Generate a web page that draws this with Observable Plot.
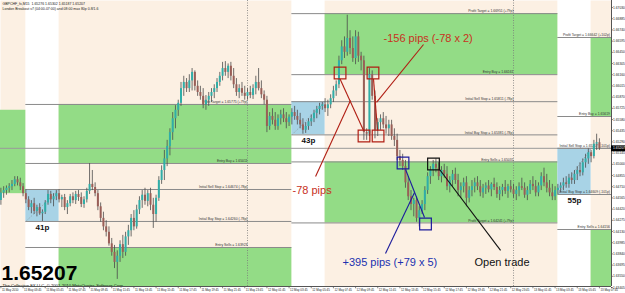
<!DOCTYPE html>
<html><head><meta charset="utf-8">
<script src="https://cdn.jsdelivr.net/npm/d3@7"></script>
<script src="https://cdn.jsdelivr.net/npm/@observablehq/plot@0.6"></script>
<style>
html,body{margin:0;padding:0;background:#fff;}
#chart{width:625px;height:293px;overflow:hidden;}
</style></head><body><div id="chart"></div>
<script>
// ---- time axis: hours since 11 May 2010 00:00, M15 bars ----
const T0 = 1.714, T1 = 56.84;
const P0 = 1.63418, P1 = 1.67121;
const barStart = 1.75, barHours = 0.25;

const open = [1.6453,1.6463,1.6466,1.6469,1.6471,1.6474,1.6480,1.6476,1.6471,1.6462,1.6454,1.6444,1.6449,1.6439,1.6444,1.6436,1.6438,1.6450,1.6461,1.6454,
1.6458,1.6462,1.6454,1.6457,1.6444,1.6449,1.6458,1.6453,1.6461,1.6457,1.6448,1.6454,1.6465,1.6474,1.6470,1.6462,1.6445,1.6430,1.6419,1.6412,
1.6397,1.6386,1.6373,1.6381,1.6396,1.6386,1.6406,1.6414,1.6430,1.6419,1.6441,1.6453,1.6460,1.6452,1.6462,1.6447,1.6435,1.6456,1.6479,1.6492,
1.6507,1.6523,1.6541,1.6559,1.6570,1.6579,1.6598,1.6606,1.6598,1.6608,1.6619,1.6601,1.6593,1.6588,1.6577,1.6583,1.6588,1.6593,1.6598,1.6606,
1.6614,1.6624,1.6619,1.6627,1.6614,1.6603,1.6593,1.6598,1.6592,1.6588,1.6593,1.6589,1.6598,1.6606,1.6598,1.6590,1.6583,1.6549,1.6562,1.6557,
1.6549,1.6559,1.6564,1.6559,1.6554,1.6561,1.6567,1.6562,1.6557,1.6551,1.6544,1.6549,1.6555,1.6559,1.6566,1.6571,1.6575,1.6577,1.6572,1.6577,
1.6585,1.6595,1.6603,1.6634,1.6652,1.6645,1.6663,1.6650,1.6637,1.6665,1.6640,1.6634,1.6541,1.6539,1.6616,1.6588,1.6544,1.6554,1.6559,1.6551,
1.6546,1.6551,1.6536,1.6531,1.6510,1.6505,1.6497,1.6476,1.6458,1.6448,1.6453,1.6430,1.6440,1.6448,1.6466,1.6484,1.6492,1.6500,1.6495,1.6484,
1.6492,1.6487,1.6471,1.6479,1.6487,1.6479,1.6466,1.6471,1.6476,1.6456,1.6466,1.6471,1.6476,1.6471,1.6463,1.6469,1.6472,1.6467,1.6474,1.6470,
1.6461,1.6466,1.6470,1.6465,1.6471,1.6467,1.6461,1.6466,1.6471,1.6469,1.6460,1.6466,1.6474,1.6471,1.6463,1.6472,1.6484,1.6476,1.6469,1.6463,
1.6458,1.6466,1.6469,1.6472,1.6476,1.6474,1.6482,1.6479,1.6487,1.6492,1.6489,1.6502,1.6507,1.6515,1.6510,1.6526,1.6528];
const high = [1.6469,1.6471,1.6472,1.6475,1.6479,1.6484,1.6484,1.6482,1.6475,1.6467,1.6458,1.6453,1.6456,1.6447,1.6449,1.6441,1.6453,1.6466,1.6465,1.6462,
1.6466,1.6467,1.6460,1.6461,1.6453,1.6461,1.6463,1.6465,1.6466,1.6463,1.6458,1.6469,1.6501,1.6492,1.6476,1.6466,1.6450,1.6438,1.6427,1.6419,
1.6404,1.6395,1.6388,1.6401,1.6408,1.6412,1.6421,1.6435,1.6440,1.6447,1.6458,1.6466,1.6469,1.6466,1.6469,1.6456,1.6460,1.6484,1.6498,1.6518,
1.6531,1.6546,1.6567,1.6576,1.6583,1.6606,1.6614,1.6611,1.6616,1.6624,1.6621,1.6608,1.6601,1.6598,1.6589,1.6593,1.6598,1.6603,1.6611,1.6619,
1.6632,1.6633,1.6630,1.6632,1.6624,1.6611,1.6603,1.6606,1.6601,1.6598,1.6601,1.6603,1.6614,1.6624,1.6608,1.6595,1.6588,1.6567,1.6572,1.6567,
1.6564,1.6570,1.6572,1.6567,1.6564,1.6572,1.6575,1.6570,1.6566,1.6559,1.6554,1.6559,1.6564,1.6570,1.6575,1.6579,1.6580,1.6585,1.6583,1.6590,
1.6601,1.6608,1.6640,1.6660,1.6665,1.6693,1.6673,1.6665,1.6673,1.6671,1.6645,1.6640,1.6546,1.6624,1.6621,1.6595,1.6559,1.6564,1.6567,1.6562,
1.6557,1.6557,1.6546,1.6539,1.6518,1.6513,1.6505,1.6484,1.6466,1.6456,1.6458,1.6445,1.6453,1.6471,1.6489,1.6497,1.6505,1.6507,1.6502,1.6497,
1.6500,1.6497,1.6484,1.6492,1.6495,1.6487,1.6476,1.6482,1.6484,1.6471,1.6479,1.6482,1.6484,1.6479,1.6474,1.6476,1.6479,1.6476,1.6482,1.6476,
1.6471,1.6474,1.6479,1.6474,1.6479,1.6474,1.6471,1.6476,1.6482,1.6476,1.6471,1.6479,1.6484,1.6479,1.6476,1.6489,1.6495,1.6487,1.6479,1.6474,
1.6471,1.6474,1.6476,1.6482,1.6484,1.6487,1.6489,1.6492,1.6497,1.6502,1.6507,1.6513,1.6520,1.6518,1.6531,1.6539,1.6533];
const low = [1.6447,1.6456,1.6460,1.6463,1.6466,1.6471,1.6472,1.6466,1.6458,1.6449,1.6440,1.6436,1.6435,1.6432,1.6434,1.6426,1.6435,1.6447,1.6449,1.6445,
1.6453,1.6450,1.6444,1.6440,1.6435,1.6445,1.6449,1.6448,1.6452,1.6444,1.6443,1.6450,1.6461,1.6466,1.6458,1.6440,1.6425,1.6414,1.6406,1.6394,
1.6381,1.6365,1.6351,1.6373,1.6378,1.6381,1.6395,1.6406,1.6414,1.6416,1.6435,1.6443,1.6447,1.6445,1.6440,1.6417,1.6425,1.6452,1.6474,1.6479,
1.6497,1.6511,1.6531,1.6546,1.6562,1.6575,1.6588,1.6593,1.6593,1.6595,1.6595,1.6588,1.6583,1.6572,1.6570,1.6575,1.6580,1.6585,1.6593,1.6601,
1.6608,1.6614,1.6611,1.6608,1.6598,1.6588,1.6585,1.6588,1.6583,1.6583,1.6585,1.6584,1.6590,1.6595,1.6585,1.6577,1.6541,1.6544,1.6551,1.6544,
1.6544,1.6551,1.6554,1.6546,1.6549,1.6551,1.6557,1.6551,1.6546,1.6539,1.6540,1.6544,1.6549,1.6554,1.6559,1.6564,1.6570,1.6567,1.6562,1.6572,
1.6580,1.6588,1.6598,1.6629,1.6637,1.6640,1.6642,1.6632,1.6629,1.6632,1.6621,1.6531,1.6531,1.6536,1.6583,1.6533,1.6536,1.6544,1.6546,1.6539,
1.6536,1.6531,1.6523,1.6505,1.6497,1.6492,1.6469,1.6453,1.6440,1.6432,1.6425,1.6419,1.6435,1.6440,1.6461,1.6474,1.6484,1.6489,1.6479,1.6476,
1.6482,1.6466,1.6463,1.6471,1.6474,1.6458,1.6456,1.6463,1.6445,1.6450,1.6458,1.6463,1.6466,1.6458,1.6456,1.6461,1.6463,1.6458,1.6466,1.6456,
1.6453,1.6458,1.6461,1.6456,1.6463,1.6456,1.6453,1.6458,1.6466,1.6456,1.6453,1.6461,1.6466,1.6458,1.6458,1.6466,1.6471,1.6463,1.6458,1.6453,
1.6453,1.6461,1.6463,1.6466,1.6469,1.6469,1.6474,1.6474,1.6479,1.6484,1.6485,1.6495,1.6500,1.6502,1.6507,1.6518,1.6518];
const close = [1.6463,1.6466,1.6469,1.6471,1.6474,1.6480,1.6476,1.6471,1.6462,1.6454,1.6444,1.6449,1.6439,1.6444,1.6436,1.6438,1.6450,1.6461,1.6454,1.6458,
1.6462,1.6454,1.6457,1.6444,1.6449,1.6458,1.6453,1.6461,1.6457,1.6448,1.6454,1.6465,1.6474,1.6470,1.6462,1.6445,1.6430,1.6419,1.6412,1.6397,
1.6386,1.6373,1.6381,1.6396,1.6386,1.6406,1.6414,1.6430,1.6419,1.6441,1.6453,1.6460,1.6452,1.6462,1.6447,1.6435,1.6456,1.6479,1.6492,1.6507,
1.6523,1.6541,1.6559,1.6570,1.6579,1.6598,1.6606,1.6598,1.6608,1.6619,1.6601,1.6593,1.6588,1.6577,1.6583,1.6588,1.6593,1.6598,1.6606,1.6614,
1.6624,1.6619,1.6627,1.6614,1.6603,1.6593,1.6598,1.6592,1.6588,1.6593,1.6589,1.6598,1.6606,1.6598,1.6590,1.6583,1.6549,1.6562,1.6557,1.6549,
1.6559,1.6564,1.6559,1.6554,1.6561,1.6567,1.6562,1.6557,1.6551,1.6544,1.6549,1.6555,1.6559,1.6566,1.6571,1.6575,1.6577,1.6572,1.6577,1.6585,
1.6595,1.6603,1.6634,1.6652,1.6645,1.6663,1.6650,1.6637,1.6665,1.6640,1.6634,1.6541,1.6539,1.6616,1.6588,1.6544,1.6554,1.6559,1.6551,1.6546,
1.6551,1.6536,1.6531,1.6510,1.6505,1.6497,1.6476,1.6458,1.6448,1.6453,1.6430,1.6440,1.6448,1.6466,1.6484,1.6492,1.6500,1.6495,1.6484,1.6492,
1.6487,1.6471,1.6479,1.6487,1.6479,1.6466,1.6471,1.6476,1.6456,1.6466,1.6471,1.6476,1.6471,1.6463,1.6469,1.6472,1.6467,1.6474,1.6470,1.6461,
1.6466,1.6470,1.6465,1.6471,1.6467,1.6461,1.6466,1.6471,1.6469,1.6460,1.6466,1.6474,1.6471,1.6463,1.6472,1.6484,1.6476,1.6469,1.6463,1.6458,
1.6466,1.6469,1.6472,1.6476,1.6474,1.6482,1.6479,1.6487,1.6492,1.6489,1.6502,1.6507,1.6515,1.6510,1.6526,1.6528,1.65207];

const lastPrice = 1.65207;

// London breakout sessions (04:00-07:00) and boxes
const sessionStart = [4, 28, 52];
const sessionEnd = [7, 31, 55];
const boxHigh = [1.64674, 1.65811, 1.65207];
const boxLow = [1.64260, 1.65381, 1.64609];
const boxPips = ["41p", "43p", "55p"];

// green target zones
const zoneStart = [T0, 7, 7, 31, 31, 55, 55];
const zoneEnd = [4, 28, 28, 52, 52, T1, T1];
const zoneTop = [1.6570, 1.65775, 1.63923, 1.66951, 1.65031, 1.66642, 1.64156];
const zoneBottom = [1.6462, 1.65011, P0, 1.66161, 1.64241, 1.65619, P0];

// horizontal levels
const levelStart = [4,4,4,4,4, 28,28,28,28,28,28, 52,52,52,52,52];
const levelEnd   = [28,28,28,28,28, 52,52,52,52,52,52, T1,T1,T1,T1,T1];
const levelLabelAt = [24,24,24,24,24, 48,48,48,48,48,48, 56.7,56.7,56.7,56.7,56.7];
const levelPrice = [1.65775,1.65011,1.64674,1.64260,1.63923,
  1.66951,1.66161,1.65811,1.65381,1.65031,1.64241,
  1.66642,1.65619,1.65207,1.64609,1.64156];
const levelText = ["Profit Target = 1.65775 (+79p)","Entry Buy = 1.65011","Initial Sell Stop = 1.64674 (-78p)","Initial Buy Stop = 1.64260 (-78p)","Entry Sells = 1.63923",
  "Profit Target = 1.66951 (+79p)","Entry Buy = 1.66161","Initial Sell Stop = 1.65811 (-78p)","Initial Buy Stop = 1.65381 (-78p)","Entry Sells = 1.65031","Profit Target = 1.64241 (+79p)",
  "Profit Target = 1.66642 (+102p)","Entry Buy = 1.65619","Initial Sell Stop = 1.65207 (-101p)","Initial Buy Stop = 1.64609 (-101p)","Entry Sells = 1.64156"];

const daySeparators = [24, 48];

// price axis tick labels
const yTickLabels = ["1.67030","1.66885","1.66740","1.66595","1.66450","1.66305","1.66160","1.66015","1.65870","1.65725","1.65580","1.65435","1.65290",
  "1.65145","1.65000","1.64855","1.64710","1.64565","1.64420","1.64275","1.64130","1.63985","1.63840","1.63695","1.63550","1.63405"];
// time axis tick labels (every 2 hours)
const xTickAt = [1.75,3.75,5.75,7.75,9.75,11.75,13.75,15.75,17.75,19.75,21.75,23.75,
  25.75,27.75,29.75,31.75,33.75,35.75,37.75,39.75,41.75,43.75,45.75,47.75,
  49.75,51.75,53.75,55.75];
const xTickLabels = ["11 May 2010","11 May 03:45","11 May 05:45","11 May 07:45","11 May 09:45","11 May 11:45","11 May 13:45","11 May 15:45","11 May 17:45","11 May 19:45","11 May 21:45","11 May 23:45",
  "12 May 01:45","12 May 03:45","12 May 05:45","12 May 07:45","12 May 09:45","12 May 11:45","12 May 13:45","12 May 15:45","12 May 17:45","12 May 19:45","12 May 21:45","12 May 23:45",
  "13 May 01:45","13 May 03:45","13 May 05:45","13 May 07:45"];

// trade markers (time, price)
const markT = [32.35, 35.32, 34.51, 35.78, 38.03, 40.06, 40.78];
const markP = [1.66182, 1.66182, 1.65367, 1.65367, 1.65017, 1.64228, 1.65004];
const markColor = ["#b01e14","#b01e14","#b01e14","#b01e14","#1c1c9c","#1c1c9c","#111111"];

// connector lines
const linkT1 = [32.35, 35.37, 30.14, 39.88, 38.26, 36.45, 41.33];
const linkP1 = [1.66105, 1.66105, 1.64843, 1.66551, 1.64933, 1.63846, 1.64933];
const linkT2 = [34.47, 35.73, 33.29, 35.64, 39.97, 39.07, 46.83];
const linkP2 = [1.65438, 1.65438, 1.65826, 1.65801, 1.64312, 1.64635, 1.63885];
const linkColor = ["#b01e14","#b01e14","#b01e14","#b01e14","#1c1c9c","#1c1c9c","#111111"];

// annotation texts
const noteText = ["-156 pips (-78 x 2)", "-78 pips", "+395 pips (+79 x 5)", "Open trade"];
const noteT = [36.27, 28.06, 32.57, 44.48];
const noteP = [1.66629, 1.64661, 1.63729, 1.63729];
const noteColor = ["#c8321e", "#c8321e", "#2030b0", "#111111"];

const headerLine1 = "GBPCHF_fx,M15  1.65276 1.65302 1.65187 1.65207";
const headerLine2 = "London Breakout v7 (04:00-07:00) and 08:00 max 80p 0.8/1.6";

const idx = d3.range(open.length);
const barT = idx.map(i => barStart + i * barHours);
const up = idx.filter(i => close[i] >= open[i]);
const down = idx.filter(i => close[i] < open[i]);
const r = (n) => d3.range(n);

const font = "Liberation Sans, Arial, sans-serif";
const chart = Plot.plot({
  width: 625, height: 293,
  marginLeft: 0, marginRight: 14, marginTop: 0, marginBottom: 7,
  x: {domain: [T0, T1], axis: null},
  y: {domain: [P0, P1], axis: null},
  style: {background: "#ffffff", fontFamily: font},
  marks: [
    Plot.frame({fill: "#fcf0e3", stroke: null}),
    Plot.rect(r(3), {x1: i => sessionStart[i], x2: i => sessionEnd[i], y1: P0, y2: P1, fill: "#ffffff"}),
    Plot.rect(r(zoneStart.length), {x1: i => zoneStart[i], x2: i => zoneEnd[i], y1: i => zoneBottom[i], y2: i => zoneTop[i], fill: "#93dc86"}),
    Plot.rect(r(3), {x1: i => sessionStart[i], x2: i => sessionEnd[i], y1: i => boxLow[i], y2: i => boxHigh[i], fill: "#a8d3e6"}),
    Plot.link(r(3), {x1: i => sessionStart[i], y1: i => boxLow[i], x2: i => sessionEnd[i], y2: i => boxHigh[i], stroke: "#8a8a8a", strokeWidth: 0.7, strokeDasharray: "1,1.5"}),
    Plot.ruleX(daySeparators, {stroke: "#7a7a7a", strokeWidth: 0.8, strokeDasharray: "1,1.5"}),
    Plot.ruleY([lastPrice], {stroke: "#9a9a9a", strokeWidth: 1}),
    Plot.ruleY(r(levelPrice.length), {y: i => levelPrice[i], x1: i => levelStart[i], x2: i => levelEnd[i], stroke: "#8a8a8a", strokeWidth: 1}),
    Plot.text(r(levelPrice.length), {x: i => levelLabelAt[i], y: i => levelPrice[i], text: i => levelText[i], textAnchor: "end", dy: -2.3, fontSize: 3.4, fill: "#333"}),
    // candles
    Plot.ruleX(idx, {x: i => barT[i], y1: i => low[i], y2: i => high[i], stroke: "#4a4a4a", strokeWidth: 0.8}),
    Plot.ruleX(up, {x: i => barT[i], y1: i => open[i], y2: i => close[i], stroke: "#30aea8", strokeWidth: 2}),
    Plot.ruleX(down, {x: i => barT[i], y1: i => open[i], y2: i => close[i], stroke: "#9a5e57", strokeWidth: 2}),
    // box pip labels
    Plot.text(r(3), {x: i => (sessionStart[i] + sessionEnd[i]) / 2, y: i => boxLow[i], text: i => boxPips[i], dy: 6, fontSize: 8, fontWeight: "bold", fill: "#111"}),
    // trade annotations
    Plot.link(r(linkT1.length), {x1: i => linkT1[i], y1: i => linkP1[i], x2: i => linkT2[i], y2: i => linkP2[i], stroke: i => linkColor[i], strokeWidth: 1.1}),
    Plot.dot(r(markT.length), {x: i => markT[i], y: i => markP[i], symbol: "square", r: 6.6, stroke: i => markColor[i], strokeWidth: 1.2, fill: "none"}),
    Plot.text(r(noteText.length), {x: i => noteT[i], y: i => noteP[i], text: i => noteText[i], fill: i => noteColor[i], textAnchor: "start", fontSize: 11}),
    // header
    Plot.text([headerLine1], {frameAnchor: "top-left", dx: 2, dy: 3.5, fontSize: 3.5, fill: "#222", textAnchor: "start", lineAnchor: "middle"}),
    Plot.text([headerLine2], {frameAnchor: "top-left", dx: 2, dy: 8.5, fontSize: 3.5, fill: "#222", textAnchor: "start", lineAnchor: "middle"}),
    // big price and copyright
    Plot.text([lastPrice.toFixed(5)], {frameAnchor: "bottom-left", dx: 1, dy: -13, fontSize: 21, fontWeight: "bold", fill: "#000", textAnchor: "start", lineAnchor: "middle"}),
    Plot.text(["The Collective FX LLC, \u00a9 2001-2010 MetaQuotes Software Corp."], {frameAnchor: "bottom-left", dx: 2, dy: -1, fontSize: 4.2, fill: "#111", textAnchor: "start", lineAnchor: "middle"}),
    // right price axis
    Plot.ruleX([T1], {stroke: "#555", strokeWidth: 1}),
    Plot.ruleY(yTickLabels, {y: d => +d, x1: T1, x2: T1 + 0.15, stroke: "#555"}),
    Plot.text(yTickLabels, {x: T1, y: d => +d, text: d => d, textAnchor: "start", dx: 1.5, fontSize: 3.3, fill: "#222"}),
    Plot.ruleY([lastPrice], {x1: T1, x2: T1 + 1.3, stroke: "#000", strokeWidth: 6}),
    Plot.text([lastPrice.toFixed(5)], {x: T1, y: lastPrice, textAnchor: "start", dx: 1.5, fontSize: 3.4, fill: "#fff"}),
    // bottom time axis
    Plot.ruleY([P0], {stroke: "#555", strokeWidth: 1}),
    Plot.ruleX(xTickAt, {y1: P0, y2: P0 - 0.0003, stroke: "#555", strokeWidth: 0.7}),
    Plot.text(r(xTickAt.length), {x: i => xTickAt[i], y: P0, text: i => xTickLabels[i], textAnchor: "start", dx: 1, dy: 3.8, fontSize: 2.9, fill: "#222"})
  ]
});
document.getElementById("chart").appendChild(chart);
</script></body></html>
